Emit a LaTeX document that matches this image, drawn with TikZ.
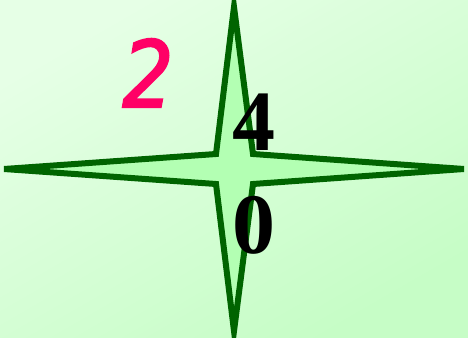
\documentclass[tikz,border=0pt]{standalone}
\usepackage{fontspec}
\setmainfont{Liberation Serif}
\newfontfamily\twofont[FakeStretch=0.87,FakeBold=2.2]{DejaVu Sans}
\definecolor{bgA}{HTML}{E6FFE6}
\definecolor{bgB}{HTML}{C6FDC6}
\definecolor{starfill}{HTML}{B3FFB3}
\definecolor{starline}{HTML}{006400}
\definecolor{pinkred}{HTML}{FF0066}
\tikzset{
  starshape/.style={draw=starline, fill=starfill, line width=6pt, line join=miter},
  bigdigit/.style={font=\bfseries\fontsize{86}{103}\selectfont, text=black, inner sep=0pt, align=center},
  pinkdigit/.style={font=\twofont\itshape\fontsize{92}{92}\selectfont, text=pinkred, inner sep=0pt}
}
\begin{document}
\begin{tikzpicture}[x=1pt,y=-1pt]
  \useasboundingbox (0,0) rectangle (468,337);
  \shade[left color=bgA, right color=bgB, shading angle=30] (0,0) rectangle (468,337);
  \coordinate (c) at (234,169);
  \draw[starshape] (234,7) -- (216,154) -- (4,169) -- (216,184) -- (234,331)
    -- (253,184) -- (464,169) -- (253,154) -- cycle;
  \node[pinkdigit, anchor=base] (two) at (148,107) {2};
  \node[bigdigit, anchor=base] (four) at (254,150) {4};
  \node[bigdigit, anchor=base] (zero) at (254,253) {0};
\end{tikzpicture}
\end{document}
